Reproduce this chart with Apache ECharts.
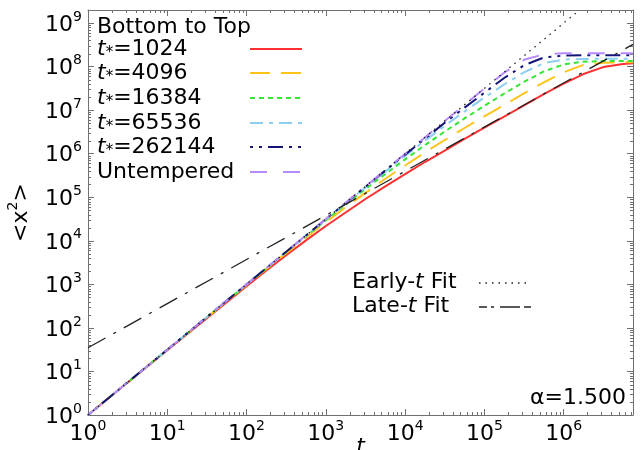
<!DOCTYPE html>
<html>
<head>
<meta charset="utf-8">
<script src="https://cdn.jsdelivr.net/npm/echarts@6/dist/echarts.min.js"></script>
<style>
  html, body { margin: 0; padding: 0; background: #fff; }
  #chart { width: 643px; height: 450px; }
</style>
</head>
<body>
<div id="chart"></div>
<script>
// Sampling times t shared by every simulated curve
const timeSteps = [1, 10, 100, 178, 316, 562, 1000, 1778, 3162, 5623, 1e4, 17783, 31623, 56234,
                   1e5, 177828, 316228, 562341, 1e6, 1778279, 3162278, 5623413, 7.5e6];

// Mean squared displacement <x^2>, one array per tempering time t*
const msdTstar1024   = [1, 30.9, 912, 2089, 4677, 10233, 21878, 44668, 91201, 177828, 338844, 645654,
                        1.175e6, 2.188e6, 3.981e6, 7.161e6, 1.288e7, 2.344e7, 4.074e7, 6.761e7, 9.772e7, 1.148e8, 1.202e8];
const msdTstar4096   = [1, 31.6, 966, 2254, 5212, 11912, 26915, 59156, 125893, 266073, 537032, 1.074e6,
                        2.065e6, 3.9e6, 7.244e6, 1.318e7, 2.427e7, 4.365e7, 7.413e7, 1.096e8, 1.23e8, 1.259e8, 1.259e8];
const msdTstar16384  = [1, 31.6, 993, 2328, 5495, 12764, 29512, 68077, 154882, 342768, 741310, 1.578e6,
                        3.236e6, 6.457e6, 1.259e7, 2.399e7, 4.467e7, 7.762e7, 1.122e8, 1.303e8, 1.34e8, 1.349e8, 1.349e8];
const msdTstar65536  = [1, 31.6, 1000, 2360, 5610, 13122, 30903, 72277, 168267, 388150, 891251, 1.991e6,
                        4.365e6, 9.333e6, 1.95e7, 3.89e7, 7.413e7, 1.202e8, 1.455e8, 1.503e8, 1.514e8, 1.514e8, 1.514e8];
const msdTstar262144 = [1, 31.6, 1000, 2371, 5623, 13305, 31548, 73961, 174181, 409260, 954993, 2.213e6,
                        5.129e6, 1.146e7, 2.512e7, 5.495e7, 1.072e8, 1.622e8, 1.799e8, 1.82e8, 1.82e8, 1.82e8, 1.82e8];
const msdUntempered  = [1, 31.6, 1000, 2371, 5623, 13335, 31623, 74989, 177828, 421697, 1e6, 2.371e6,
                        5.623e6, 1.334e7, 3.148e7, 7.244e7, 1.435e8, 1.923e8, 2.028e8, 2.042e8, 2.042e8, 2.042e8, 2.042e8];

// Power-law fits: early ~ t^1.5, late ~ linear in t
const earlyFitT = [1, 1.59e6];
const earlyFitY = [1, 2.0e9];
const lateFitT  = [1, 7.5e6];
const lateFitY  = [35, 3.25e8];

// Legend labels and axis ranges
const tStarLabels = ['1024', '4096', '16384', '65536', '262144'];
const untemperedLabel = 'Untempered';
const legendTitle = 'Bottom to Top';
const alphaLabel = 'α=1.500';
const tMin = 1, tMax = 7.5e6;
const yMin = 1, yMax = 2e9;

const FONT = '"DejaVu Sans", "Liberation Sans", sans-serif';
const FRAME = '#707070';

const curves = [
  { name: 't*=1024',   data: msdTstar1024,   color: '#ff3030', dash: 'solid' },
  { name: 't*=4096',   data: msdTstar4096,   color: '#ffc41a', dash: [20, 11] },
  { name: 't*=16384',  data: msdTstar16384,  color: '#33e633', dash: [5, 4] },
  { name: 't*=65536',  data: msdTstar65536,  color: '#8ccff0', dash: [13, 6, 4, 6] },
  { name: 't*=262144', data: msdTstar262144, color: '#141478', dash: [3, 6, 3, 6, 15, 6] },
  { name: untemperedLabel, data: msdUntempered, color: '#b88aff', dash: [17, 16] }
];

function zip(xs, ys) { return xs.map((x, i) => [x, ys[i]]); }

const series = curves.map(c => ({
  name: c.name,
  type: 'line',
  xAxisIndex: 0, yAxisIndex: 0,
  data: zip(timeSteps, c.data),
  showSymbol: false,
  lineStyle: { color: c.color, width: 2, type: c.dash },
  z: 3,
  silent: true
}));

series.push({
  name: 'Early-t Fit', type: 'line', data: zip(earlyFitT, earlyFitY),
  showSymbol: false, lineStyle: { color: '#222', width: 1.3, type: [1.5, 5] }, z: 4, silent: true
});
series.push({
  name: 'Late-t Fit', type: 'line', data: zip(lateFitT, lateFitY),
  showSymbol: false, lineStyle: { color: '#222', width: 1.3, type: [20, 9, 3, 9] }, z: 4, silent: true
});

// Minor ticks at 2..9 x 10^n on every side of the frame
const minorTicks = [];
for (let e = 0; e <= 9; e++) {
  for (let m = 2; m <= 9; m++) {
    const v = m * Math.pow(10, e);
    if (v < tMax) minorTicks.push([v, 0]);
    if (v < yMax) minorTicks.push([v, 1]);
  }
}
series.push({
  type: 'custom',
  data: minorTicks,
  silent: true,
  z: 2,
  renderItem: function (params, api) {
    const cs = params.coordSys;
    const v = api.value(0);
    const side = api.value(1);
    const st = { stroke: FRAME, lineWidth: 1 };
    const len = 3;
    if (side === 0) {
      const x = Math.round(api.coord([v, yMin])[0]) + 0.5;
      const b = cs.y + cs.height;
      return { type: 'group', children: [
        { type: 'line', shape: { x1: x, y1: b, x2: x, y2: b - len }, style: st },
        { type: 'line', shape: { x1: x, y1: cs.y, x2: x, y2: cs.y + len }, style: st }
      ]};
    }
    const y = Math.round(api.coord([tMin, v])[1]) + 0.5;
    const r = cs.x + cs.width;
    return { type: 'group', children: [
      { type: 'line', shape: { x1: cs.x, y1: y, x2: cs.x + len, y2: y }, style: st },
      { type: 'line', shape: { x1: r, y1: y, x2: r - len, y2: y }, style: st }
    ]};
  }
});

const powerLabel = v => '{b|10}{s|' + Math.round(Math.log10(v)) + '}';
const labelRich = {
  b: { fontSize: 22, fontFamily: FONT, color: '#000', verticalAlign: 'bottom', lineHeight: 26 },
  s: { fontSize: 14, fontFamily: FONT, color: '#000', verticalAlign: 'top', lineHeight: 26 }
};

function frameAxis(pos, isX, showLabels) {
  return {
    type: 'log',
    logBase: 10,
    position: pos,
    min: isX ? tMin : yMin,
    max: isX ? tMax : yMax,
    axisLine: { show: true, lineStyle: { color: FRAME, width: 1 } },
    axisTick: { show: true, inside: true, length: 6, lineStyle: { color: FRAME } },
    splitLine: { show: false },
    axisLabel: {
      show: showLabels,
      formatter: powerLabel,
      rich: labelRich,
      showMaxLabel: false,
      margin: isX ? 4 : 6
    }
  };
}

const xBottom = frameAxis('bottom', true, true);
xBottom.name = 't';
xBottom.nameLocation = 'middle';
xBottom.nameGap = 21;
xBottom.nameMoveOverlap = false;
xBottom.nameTextStyle = { fontFamily: FONT, fontSize: 22, fontStyle: 'italic', color: '#000', verticalAlign: 'top' };
const xTop = frameAxis('top', true, false);

const yLeft = frameAxis('left', false, true);
yLeft.name = '{a|<x}{s|2}{a|>}';
yLeft.nameLocation = 'middle';
yLeft.nameGap = 56;
yLeft.nameMoveOverlap = false;
yLeft.nameTextStyle = {
  rich: {
    a: { fontFamily: FONT, fontSize: 22, color: '#000', verticalAlign: 'bottom', lineHeight: 26 },
    s: { fontFamily: FONT, fontSize: 14, color: '#000', verticalAlign: 'top', lineHeight: 26 }
  }
};
const yRight = frameAxis('right', false, false);

// Legend block drawn as text + line samples
const legendX = 97, sampleX1 = 250, sampleX2 = 302;
const rowY = [49, 73, 98, 123, 147, 172];
const graphics = [];
const legendRich = {
  it: { fontFamily: FONT, fontSize: 22, fontStyle: 'italic', fill: '#000' },
  st: { fontFamily: FONT, fontSize: 15, fill: '#000', verticalAlign: 'bottom', padding: [8, 0, 0, 0] },
  n: { fontFamily: FONT, fontSize: 22, fill: '#000' }
};
graphics.push({ type: 'text', x: legendX, y: 27, style: { text: legendTitle, font: '22px ' + FONT, fill: '#000', verticalAlign: 'middle' } });
tStarLabels.forEach((lab, i) => {
  graphics.push({ type: 'text', x: legendX, y: rowY[i], style: { text: '{it|t}{st|*}{n|=' + lab + '}', rich: legendRich, verticalAlign: 'middle' } });
});
graphics.push({ type: 'text', x: legendX, y: rowY[5], style: { text: untemperedLabel, font: '22px ' + FONT, fill: '#000', verticalAlign: 'middle' } });
curves.forEach((c, i) => {
  graphics.push({ type: 'line', shape: { x1: sampleX1, y1: rowY[i], x2: sampleX2, y2: rowY[i] },
    style: { stroke: c.color, lineWidth: 2, lineDash: c.dash === 'solid' ? null : c.dash } });
});

// Fit legend
const fitRich = {
  n: { fontFamily: FONT, fontSize: 22, fill: '#000' },
  it: { fontFamily: FONT, fontSize: 22, fontStyle: 'italic', fill: '#000' }
};
graphics.push({ type: 'text', x: 352, y: 282, style: { text: '{n|Early-}{it|t}{n| Fit}', rich: fitRich, verticalAlign: 'middle' } });
graphics.push({ type: 'text', x: 352, y: 306, style: { text: '{n|Late-}{it|t}{n| Fit}', rich: fitRich, verticalAlign: 'middle' } });
graphics.push({ type: 'line', shape: { x1: 479, y1: 283, x2: 528, y2: 283 }, style: { stroke: '#222', lineWidth: 1.3, lineDash: [1.5, 5] } });
graphics.push({ type: 'line', shape: { x1: 479, y1: 307, x2: 531, y2: 307 }, style: { stroke: '#222', lineWidth: 1.3, lineDash: [8, 4, 3, 6, 20, 4] } });

// Exponent annotation
graphics.push({ type: 'text', x: 626, y: 398, style: { text: alphaLabel, font: '22px ' + FONT, fill: '#000', align: 'right', verticalAlign: 'middle' } });

const chart = echarts.init(document.getElementById('chart'), null, { renderer: 'canvas' });
chart.setOption({
  backgroundColor: '#fff',
  animation: false,
  grid: { left: 88, right: 10, top: 10, bottom: 35, containLabel: false, outerBoundsMode: 'none' },
  xAxis: [xBottom, xTop],
  yAxis: [yLeft, yRight],
  series: series,
  graphic: graphics
});
</script>
</body>
</html>
